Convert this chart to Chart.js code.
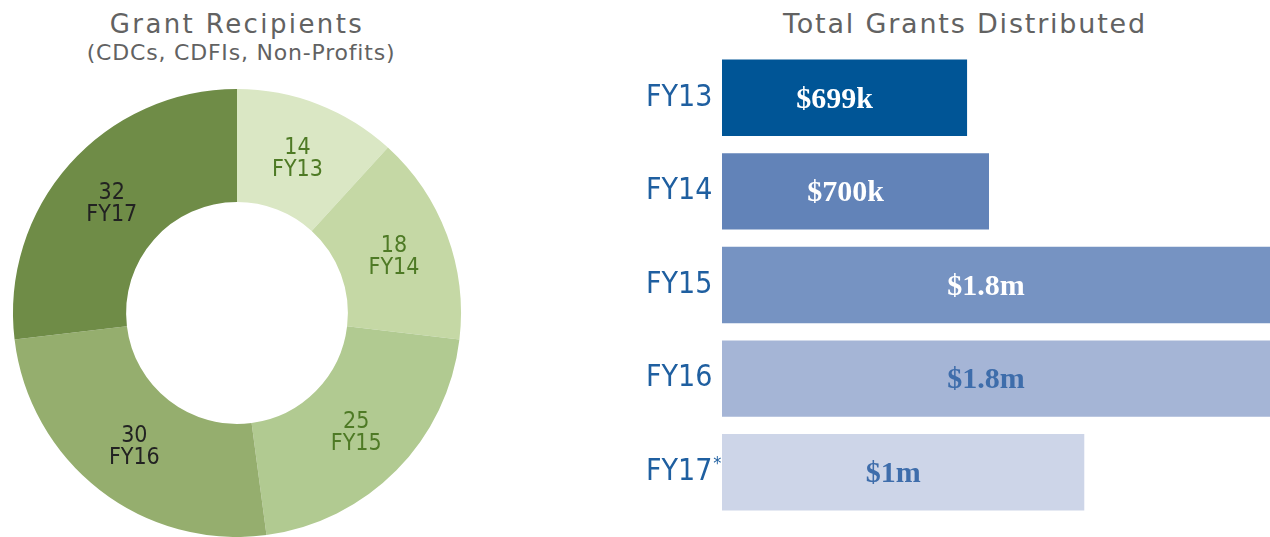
<!DOCTYPE html>
<html>
<head>
<meta charset="utf-8">
<script src="https://cdn.jsdelivr.net/npm/chart.js@4.4.1/dist/chart.umd.min.js"></script>
<style>
  body { margin: 0; width: 1270px; height: 537px; background: #fff; position: relative; overflow: hidden; font-family: 'DejaVu Sans', sans-serif; }
  .title { position: absolute; color: #626262; white-space: nowrap; transform: translateX(-50%); }
  #t1 { left: 237px; top: 11px; font-size: 26px; line-height: 26px; letter-spacing: 2.4px; }
  #t1sub { left: 241px; top: 42px; font-size: 22px; line-height: 22px; letter-spacing: 0.8px; }
  #t2 { left: 965px; top: 10px; font-size: 27px; line-height: 27px; letter-spacing: 1.8px; }
  #donut { position: absolute; left: 0; top: 0; }
  #bars { position: absolute; left: 620px; top: 0; }
</style>
</head>
<body>
<div class="title" id="t1">Grant Recipients</div>
<div class="title" id="t1sub">(CDCs, CDFIs, Non-Profits)</div>
<div class="title" id="t2">Total Grants Distributed</div>
<canvas id="donut" width="474" height="537"></canvas>
<canvas id="bars" width="650" height="537"></canvas>
<script>
// grant recipients per fiscal year
const fiscalYears = ['FY13', 'FY14', 'FY15', 'FY16', 'FY17'];
const recipientCounts = [14, 18, 25, 30, 32];

// total grants distributed (bar lengths as drawn, in $m) and their printed labels
const grantYears = ['FY13', 'FY14', 'FY15', 'FY16', 'FY17*'];
const grantBarLengths = [0.805, 0.877, 1.8, 1.8, 1.19];
const grantLabels = ['$699k', '$700k', '$1.8m', '$1.8m', '$1m'];

const sansFont = '"DejaVu Sans Condensed", "DejaVu Sans", sans-serif';
const greens = ['#dae7c4', '#c5d8a5', '#b1ca91', '#95ae6e', '#6f8c47'];
const blues = ['#005596', '#6283b8', '#7693c2', '#a5b5d6', '#cdd5e8'];

// value + year inside each doughnut slice
const donutLabels = {
    id: 'donutLabels',
    afterDatasetsDraw(chart) {
        const ctx = chart.ctx;
        chart.getDatasetMeta(0).data.forEach((arc, i) => {
            const p = arc.getCenterPoint();
            ctx.save();
            ctx.font = '23px ' + sansFont;
            ctx.fillStyle = i < 3 ? '#4e7a25' : '#222';
            ctx.textAlign = 'center';
            ctx.textBaseline = 'middle';
            ctx.fillText(recipientCounts[i], p.x, p.y - 9);
            ctx.fillText(fiscalYears[i], p.x, p.y + 13);
            ctx.restore();
        });
    }
};

new Chart(document.getElementById('donut'), {
    type: 'doughnut',
    data: {
        labels: fiscalYears,
        datasets: [{
            data: recipientCounts,
            backgroundColor: greens,
            borderWidth: 0,
        }],
    },
    options: {
        responsive: false,
        animation: false,
        cutout: '49.5%',
        layout: { padding: { left: 13, right: 13, top: 89, bottom: 0 } },
        plugins: { legend: { display: false }, tooltip: { enabled: false } },
    },
    plugins: [donutLabels],
});

// dollar labels on bars + small asterisk on FY17
const barLabels = {
    id: 'barLabels',
    afterDatasetsDraw(chart) {
        const ctx = chart.ctx;
        chart.getDatasetMeta(0).data.forEach((bar, i) => {
            ctx.save();
            ctx.font = 'bold 30px "Liberation Serif", serif';
            ctx.fillStyle = i < 3 ? '#ffffff' : '#3e6dab';
            ctx.textAlign = 'center';
            ctx.textBaseline = 'middle';
            ctx.fillText(grantLabels[i], (bar.x + bar.base) / 2 - 10, bar.y + 2);
            ctx.restore();
        });
        const yScale = chart.scales.y;
        grantYears.forEach((lab, i) => {
            if (!lab.endsWith('*')) return;
            ctx.save();
            ctx.font = '30px ' + sansFont;
            const w = ctx.measureText(lab.replace('*', '')).width;
            ctx.font = '18px ' + sansFont;
            ctx.fillStyle = '#1f5fa0';
            ctx.textAlign = 'left';
            ctx.textBaseline = 'middle';
            ctx.fillText('*', yScale.left + w + 1, yScale.getPixelForTick(i) - 8);
            ctx.restore();
        });
    }
};

new Chart(document.getElementById('bars'), {
    type: 'bar',
    data: {
        labels: grantYears,
        datasets: [{
            data: grantBarLengths,
            backgroundColor: blues,
            borderWidth: 0,
            barPercentage: 0.816,
            categoryPercentage: 1,
        }],
    },
    options: {
        indexAxis: 'y',
        responsive: false,
        animation: false,
        layout: { padding: { left: 26, right: 0, top: 51, bottom: 14 } },
        plugins: { legend: { display: false }, tooltip: { enabled: false } },
        scales: {
            x: { display: false, min: 0, max: 1.8 },
            y: {
                grid: { display: false },
                border: { display: false },
                ticks: {
                    crossAlign: 'far',
                    padding: 0,
                    color: '#1f5fa0',
                    font: { family: sansFont, size: 30 },
                    callback: (v, i) => grantYears[i].replace('*', ''),
                },
                afterFit(scale) { scale.width = 76; },
            },
        },
    },
    plugins: [barLabels],
});
</script>
</body>
</html>
